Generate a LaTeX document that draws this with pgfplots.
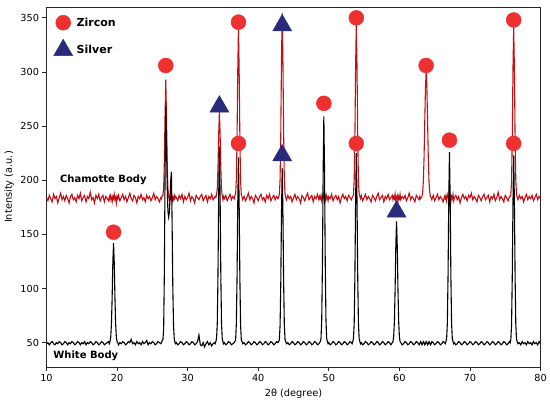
\documentclass[border=0pt]{standalone}
\usepackage{pgfplots}
\pgfplotsset{compat=1.18}
\usepackage{pgfplotstable}
\usepackage{fontspec}
\setmainfont{DejaVu Sans}
\definecolor{chred}{RGB}{196,14,20}
\definecolor{zircon}{RGB}{238,48,48}
\definecolor{silver}{RGB}{42,42,122}
\pgfplotstableread{
x w c
10.0 49 184
10.2 50 181
10.4 48 186
10.6 50 183
10.8 51 180
11.0 49 187
11.2 48 183
11.4 50 185
11.6 49 179
11.8 51 184
12.0 50 188
12.2 48 182
12.4 49 185
12.6 51 181
12.8 50 186
13.0 48 183
13.2 50 179
13.4 49 185
13.6 51 187
13.8 50 182
14.0 48 184
14.2 49 180
14.4 51 186
14.6 50 183
14.8 48 188
15.0 50 181
15.2 49 184
15.4 51 186
15.6 48 180
15.8 50 185
16.0 49 183
16.2 51 189
16.4 50 182
16.6 48 184
16.8 49 179
17.0 51 186
17.2 50 183
17.4 48 187
17.6 49 181
17.8 51 184
18.0 50 186
18.2 48 180
18.4 49 185
18.6 50 183
18.8 51 181
18.9 49 185
19.0 51 182
19.1 55 186
19.2 67 184
19.3 91 180
19.4 124 185
19.5 142 183
19.6 124 187
19.7 91 182
19.8 67 184
19.9 55 179
20.0 51 185
20.1 50 183
20.2 48 186
20.4 50 181
20.6 49 184
20.8 51 187
21.0 50 182
21.2 48 185
21.4 49 180
21.6 51 184
21.8 50 188
22.0 53 183
22.2 49 181
22.4 50 186
22.6 48 184
22.8 51 179
23.0 49 185
23.2 50 183
23.4 48 187
23.6 51 182
23.8 49 184
24.0 50 180
24.2 52 186
24.4 48 183
24.6 50 185
24.8 49 181
25.0 51 184
25.2 50 188
25.4 48 182
25.6 49 185
25.8 51 183
26.0 50 180
26.2 49 184
26.3 50 183
26.4 52 186
26.5 53 186
26.6 62 193
26.7 115 217
26.8 205 260
26.9 268 293
27.0 235 260
27.1 195 217
27.2 172 193
27.3 166 186
27.4 170 181
27.5 182 185
27.6 200 183
27.7 208 187
27.8 160 180
27.9 100 184
28.0 66 182
28.1 54 186
28.2 50 183
28.3 49 185
28.4 50 184
28.6 48 181
28.8 49 186
29.0 51 183
29.2 50 187
29.4 48 180
29.6 49 185
29.8 51 182
30.0 50 184
30.2 48 188
30.4 49 181
30.6 51 185
30.8 50 183
31.0 48 179
31.2 49 186
31.4 51 184
31.6 57 182
31.8 48 185
32.0 47 187
32.2 50 181
32.4 46 184
32.6 49 186
32.8 51 180
33.0 48 185
33.2 50 183
33.4 47 187
33.6 49 182
33.8 50 184
33.9 49 185
34.0 51 184
34.1 54 187
34.2 68 192
34.3 113 212
34.4 186 243
34.5 231 263
34.6 186 243
34.7 113 212
34.8 68 192
34.9 54 186
35.0 51 182
35.1 49 185
35.2 50 183
35.4 48 186
35.6 49 181
35.8 51 184
36.0 50 187
36.2 48 182
36.4 49 185
36.6 50 183
36.7 51 186
36.8 53 187
36.9 67 200
37.0 110 239
37.1 178 301
37.2 221 341
37.3 178 301
37.4 110 239
37.5 67 200
37.6 53 187
37.7 51 185
37.8 49 182
38.0 50 185
38.2 48 181
38.4 49 184
38.6 51 188
38.8 50 182
39.0 48 185
39.2 49 183
39.4 51 179
39.6 50 186
39.8 48 184
40.0 49 181
40.2 51 185
40.4 50 187
40.6 48 182
40.8 49 184
41.0 51 180
41.2 50 186
41.4 48 183
41.6 49 187
41.8 51 181
42.0 50 184
42.2 48 186
42.4 49 182
42.6 51 185
42.8 50 183
42.9 51 185
43.0 53 187
43.1 66 201
43.2 106 244
43.3 171 312
43.4 211 354
43.5 171 312
43.6 106 244
43.7 66 201
43.8 53 187
43.9 51 184
44.0 49 182
44.2 50 186
44.4 48 183
44.6 49 185
44.8 51 180
45.0 50 184
45.2 48 187
45.4 49 182
45.6 51 185
45.8 50 183
46.0 48 179
46.2 49 186
46.4 51 184
46.6 50 181
46.8 48 185
47.0 49 188
47.2 51 182
47.4 50 184
47.6 48 186
47.8 49 180
48.0 51 185
48.2 50 183
48.4 48 187
48.6 49 182
48.7 50 185
48.8 51 183
48.9 54 186
49.0 71 181
49.1 123 184
49.2 207 187
49.3 259 183
49.4 207 180
49.5 123 185
49.6 71 182
49.7 54 186
49.8 51 184
49.9 49 181
50.0 50 185
50.2 48 183
50.4 49 187
50.6 51 181
50.8 50 184
51.0 48 186
51.2 49 182
51.4 51 185
51.6 50 179
51.8 48 184
52.0 49 187
52.2 51 183
52.4 50 185
52.6 48 181
52.8 49 186
53.0 51 184
53.2 50 182
53.3 49 184
53.4 51 185
53.5 54 187
53.6 68 200
53.7 111 240
53.8 181 305
53.9 225 345
54.0 181 305
54.1 111 240
54.2 68 200
54.3 54 187
54.4 51 185
54.5 49 183
54.6 50 186
54.8 48 181
55.0 49 184
55.2 51 187
55.4 50 182
55.6 48 185
55.8 49 183
56.0 51 180
56.2 50 186
56.4 48 184
56.6 49 181
56.8 51 185
57.0 50 188
57.2 48 182
57.4 49 184
57.6 51 186
57.8 50 180
58.0 48 185
58.2 49 183
58.4 51 187
58.6 50 182
58.8 48 184
59.0 50 186
59.1 51 182
59.2 56 185
59.3 70 183
59.4 100 187
59.5 140 181
59.6 162 184
59.7 140 186
59.8 100 180
59.9 70 185
60.0 56 183
60.1 51 187
60.2 50 182
60.4 48 185
60.6 49 183
60.8 51 186
61.0 50 181
61.2 48 184
61.4 49 188
61.6 51 182
61.8 50 185
62.0 48 183
62.2 49 180
62.4 51 186
62.6 50 184
62.8 48 182
62.9 49 185
63.0 51 183
63.1 50 184
63.2 48 185
63.3 49 189
63.4 51 199
63.5 50 221
63.6 48 254
63.7 49 286
63.8 51 300
63.9 50 286
64.0 48 254
64.1 49 221
64.2 51 199
64.3 50 189
64.4 48 185
64.5 49 184
64.6 51 182
64.8 50 186
65.0 48 181
65.2 49 184
65.4 51 187
65.6 50 182
65.8 48 185
66.0 49 183
66.2 51 180
66.4 50 185
66.5 49 183
66.6 51 186
66.7 54 181
66.8 68 185
66.9 112 188
67.0 182 182
67.1 226 184
67.2 182 186
67.3 112 180
67.4 68 185
67.5 54 183
67.6 51 187
67.7 49 181
67.8 50 184
68.0 48 186
68.2 49 182
68.4 51 185
68.6 50 179
68.8 48 184
69.0 49 187
69.2 51 183
69.4 50 185
69.6 48 181
69.8 49 186
70.0 51 184
70.2 50 188
70.4 48 182
70.6 49 185
70.8 51 183
71.0 50 180
71.2 48 186
71.4 49 184
71.6 51 181
71.8 50 185
72.0 48 187
72.2 49 182
72.4 51 184
72.6 50 186
72.8 48 180
73.0 49 185
73.2 51 183
73.4 50 187
73.6 48 181
73.8 49 184
74.0 51 189
74.2 50 182
74.4 48 185
74.6 49 183
74.8 51 180
75.0 50 186
75.2 48 184
75.4 49 181
75.6 51 185
75.7 50 185
75.8 53 187
75.9 67 200
76.0 111 239
76.1 180 303
76.2 223 342
76.3 180 303
76.4 111 239
76.5 67 200
76.6 53 187
76.7 51 184
76.8 49 182
77.0 50 186
77.2 48 183
77.4 51 185
77.6 49 180
77.8 50 184
78.0 48 187
78.2 51 182
78.4 49 185
78.6 50 183
78.8 48 186
79.0 51 181
79.2 49 184
79.4 50 187
79.6 48 182
79.8 51 185
80.0 49 183
}\xrd
\pgfplotstableread{
x y
19.5 152
26.9 306
37.2 346
37.2 234
49.3 271
53.9 350
53.9 234
63.8 306
67.1 237
76.2 348
76.2 234
}\zirc
\pgfplotstableread{
x y
34.5 268
43.4 343
43.4 223
59.6 171
}\silv
\begin{document}
\begin{tikzpicture}
\begin{axis}[
  scale only axis,
  width=494bp, height=360bp,
  xmin=10, xmax=80, ymin=27.5, ymax=360,
  xtick={10,20,...,80},
  ytick={50,100,...,350},
  tick align=outside,
  xtick pos=bottom, ytick pos=left,
  major tick length=4bp,
  axis line style={line width=0.8pt, black!85},
  every tick/.style={black!85, line width=0.8pt},
  tick label style={font=\fontsize{9.7bp}{11bp}\selectfont},
  /pgf/number format/assume math mode=true,
  xlabel={2θ (degree)},
  ylabel={Intensity (a.u.)},
  label style={font=\fontsize{9.8bp}{11bp}\selectfont},
  xlabel style={at={(axis description cs:0.5,0)}, anchor=center, yshift=-27bp},
  ylabel style={at={(axis description cs:-0.0755,0.5)}, anchor=center},
  legend style={at={(axis description cs:0,1)}, anchor=north west, draw=none, fill=none,
    font=\fontsize{11bp}{13bp}\selectfont\bfseries, row sep=9bp,
    xshift=4bp, yshift=-6bp, nodes={inner ysep=2bp, inner xsep=4bp}},
  legend cell align=left,
  legend image code/.code={\draw[#1] plot coordinates {(0.3cm,0cm)};},
  clip=true,
]
\addplot[chred, line width=1.1pt, forget plot] table[x=x, y=c] {\xrd};
\addplot[black, line width=1.1pt, forget plot] table[x=x, y=w] {\xrd};
\addplot[only marks, mark=*, mark size=7.5bp, mark options={fill=zircon, draw=zircon}] table[x=x,y=y] {\zirc};
\addlegendentry{Zircon}
\addplot[only marks, mark=triangle*, mark size=11bp, mark options={fill=silver, draw=silver}] table[x=x,y=y] {\silv};
\addlegendentry{Silver}
\node[anchor=west, font=\fontsize{10bp}{12bp}\selectfont\bfseries, inner sep=0pt] at (axis cs:11.9,200) {Chamotte Body};
\node[anchor=west, font=\fontsize{10bp}{12bp}\selectfont\bfseries, inner sep=0pt] at (axis cs:10.95,37.7) {White Body};
\coordinate (O) at (rel axis cs:0,0);
\end{axis}
\pgfresetboundingbox
\path (O) ++(-46.5bp,-39bp) rectangle ++(550bp,406bp);
\end{tikzpicture}
\end{document}
